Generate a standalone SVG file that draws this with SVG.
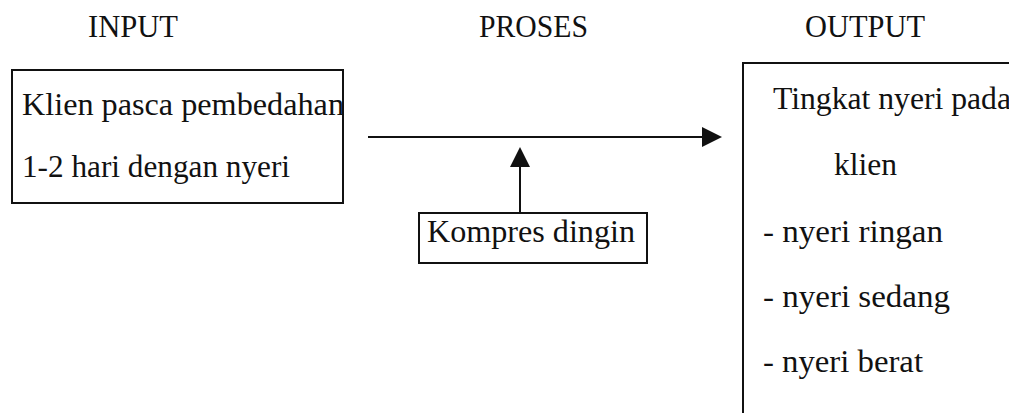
<svg xmlns="http://www.w3.org/2000/svg" width="1009" height="413" viewBox="0 0 1009 413">
<style>
  .t { font-family: "Liberation Serif", "Times New Roman", serif; font-size: 31px; fill: #111; }
  .box { fill: none; stroke: #111; stroke-width: 2; }
  .conn { stroke: #111; stroke-width: 2; fill: none; }
</style>
<defs>
  <marker id="arr" markerUnits="userSpaceOnUse" markerWidth="20" markerHeight="20" refX="0" refY="10" orient="auto" viewBox="0 0 20 20">
    <path d="M0,0 L20,10 L0,20 z" fill="#111"/>
  </marker>
</defs>
<rect width="1009" height="413" fill="#fff"/>
<g id="titles">
  <text class="t" x="88" y="37" textLength="90" lengthAdjust="spacingAndGlyphs">INPUT</text>
  <text class="t" x="479" y="37" textLength="109" lengthAdjust="spacingAndGlyphs">PROSES</text>
  <text class="t" x="805" y="37" textLength="120" lengthAdjust="spacingAndGlyphs">OUTPUT</text>
</g>
<g id="input">
  <text class="t" x="22" y="115" textLength="322" lengthAdjust="spacingAndGlyphs">Klien pasca pembedahan</text>
  <text class="t" x="22" y="177" textLength="268" lengthAdjust="spacingAndGlyphs">1-2 hari dengan nyeri</text>
  <rect class="box" x="12" y="70" width="331" height="133"/>
</g>
<g id="proses">
  <rect class="box" x="419" y="213" width="228" height="50"/>
  <text class="t" x="427" y="242" textLength="208" lengthAdjust="spacingAndGlyphs">Kompres dingin</text>
</g>
<g id="output">
  <rect class="box" x="743" y="63" width="300" height="380"/>
  <text class="t" x="773" y="109" textLength="238" lengthAdjust="spacingAndGlyphs">Tingkat nyeri pada</text>
  <text class="t" x="834" y="175" textLength="63" lengthAdjust="spacingAndGlyphs">klien</text>
  <text class="t" x="763" y="242" textLength="180" lengthAdjust="spacingAndGlyphs">- nyeri ringan</text>
  <text class="t" x="763" y="307" textLength="187" lengthAdjust="spacingAndGlyphs">- nyeri sedang</text>
  <text class="t" x="763" y="372" textLength="160" lengthAdjust="spacingAndGlyphs">- nyeri berat</text>
</g>
<g id="connectors">
  <line class="conn" x1="368" y1="137" x2="702" y2="137" marker-end="url(#arr)"/>
  <line class="conn" x1="520" y1="213" x2="520" y2="167" marker-end="url(#arr)"/>
</g>
</svg>
